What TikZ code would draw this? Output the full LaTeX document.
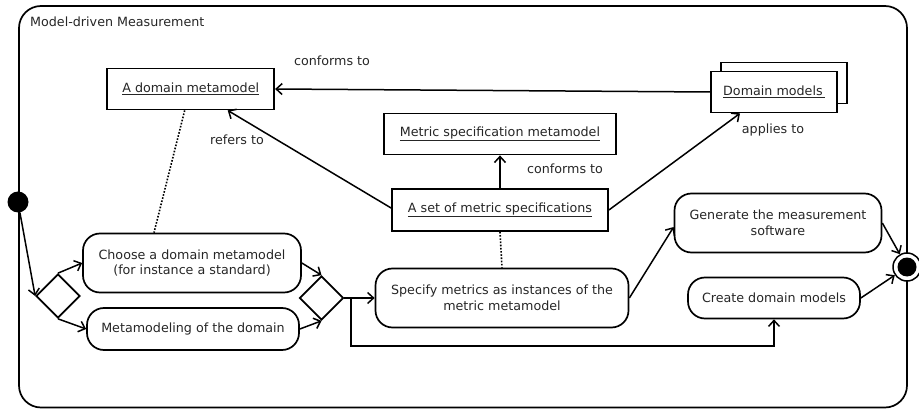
\documentclass[tikz,border=0pt]{standalone}
\usepackage{fontspec}
\setmainfont{DejaVu Sans}
\usetikzlibrary{shapes.geometric,arrows.meta}
\begin{document}
\begin{tikzpicture}[x=1pt,y=-1pt,
  every node/.style={font=\fontsize{12.7}{15.5}\selectfont, text=black!85},
  actbox/.style={draw, line width=1.7pt, rounded corners=17pt, align=center, inner sep=0pt},
  objbox/.style={draw, line width=1.8pt, fill=white, align=center, inner sep=0pt},
  decis/.style={draw, line width=1.7pt, diamond, aspect=1, minimum width=44pt, minimum height=44pt, inner sep=0pt},
  arr/.style={line width=1.5pt, -{Straight Barb[length=6pt,width=11pt,line width=1.5pt]}},
  conn/.style={line width=1.5pt},
  dot/.style={line width=1.6pt, dash pattern=on 1.6pt off 1.6pt},
  lbl/.style={inner sep=0pt}
]
\useasboundingbox (0,0) rectangle (919,409);
\draw[line width=1.7pt, rounded corners=22pt] (19,6) rectangle (907,407.5);
\node[lbl, anchor=west] (title) at (30,22) {Model-driven Measurement};

% start / end
\node[circle, fill=black, minimum size=21pt, inner sep=0pt] (init) at (18,202) {};
\node[circle, draw, line width=1.5pt, fill=white, minimum size=28pt, inner sep=0pt] (final) at (907,267) {};
\node[circle, fill=black, minimum size=19pt, inner sep=0pt] (finalin) at (final) {};

% activities
\node[decis] (d1) at (58,296) {};
\node[actbox, minimum width=218pt, minimum height=59pt] (choose) at (192,263) {Choose a domain metamodel\\(for instance a standard)};
\node[actbox, minimum width=212pt, minimum height=42pt] (meta) at (193,329) {Metamodeling of the domain};
\node[decis] (d2) at (321.5,298) {};
\node[actbox, minimum width=253pt, minimum height=59pt] (specify) at (502,298) {Specify metrics as instances of the\\metric metamodel};
\node[actbox, minimum width=207pt, minimum height=59pt] (gen) at (778,223) {Generate the measurement\\software};
\node[actbox, minimum width=172pt, minimum height=41pt] (create) at (774,298) {Create domain models};

% objects
\node[objbox, minimum width=216pt, minimum height=42pt] (set) at (500,210) {\underline{A set of metric specifications}};
\node[objbox, minimum width=232pt, minimum height=41pt] (msm) at (500,134) {\underline{Metric specification metamodel}};
\node[objbox, minimum width=167pt, minimum height=41pt] (dmm) at (190.7,89) {\underline{A domain metamodel}};
\node[objbox, minimum width=126pt, minimum height=41pt] (dmback) at (783.7,83) {};
\node[objbox, minimum width=126pt, minimum height=41pt] (dm) at (774,92) {\underline{Domain models\,}};

% control flow
\draw[arr] (init) -- (d1.west);
\draw[arr] (d1.north) -- (choose.west);
\draw[arr] (d1.south) -- (meta.west);
\draw[arr] (choose.east) -- (d2.north);
\draw[arr] (meta.east) -- (d2.south);
\coordinate (split) at (351,298);
\coordinate (bend) at (351,346);
\draw[conn] (d2.east) -- (split);
\draw[arr] (split) -- (specify.west);
\draw[arr] (split) -- (bend) -| (create.south);
\draw[arr] (specify.east) -- ([yshift=-4pt]gen.west);
\draw[arr] (gen.east) -- (final);
\draw[arr] (create.east) -- (final);

% object relations
\draw[arr] (set.north) -- (msm.south);
\node[lbl] (lconf2) at (565,169) {conforms to};
\draw[dot] (set.south) -- (specify.north);
\draw[dot] ([xshift=-6pt]dmm.south) -- ([xshift=-38pt]choose.north);
\draw[arr] ([yshift=2pt]set.west) -- ([xshift=37pt]dmm.south);
\node[lbl] (lref) at (237,140) {refers to};
\draw[arr] (dm.west) -- (dmm.east);
\node[lbl] (lconf1) at (332,61) {conforms to};
\draw[arr] (set.east) -- ([xshift=-34pt]dm.south);
\node[lbl] (lapp) at (773,130) {applies to};
\end{tikzpicture}
\end{document}
